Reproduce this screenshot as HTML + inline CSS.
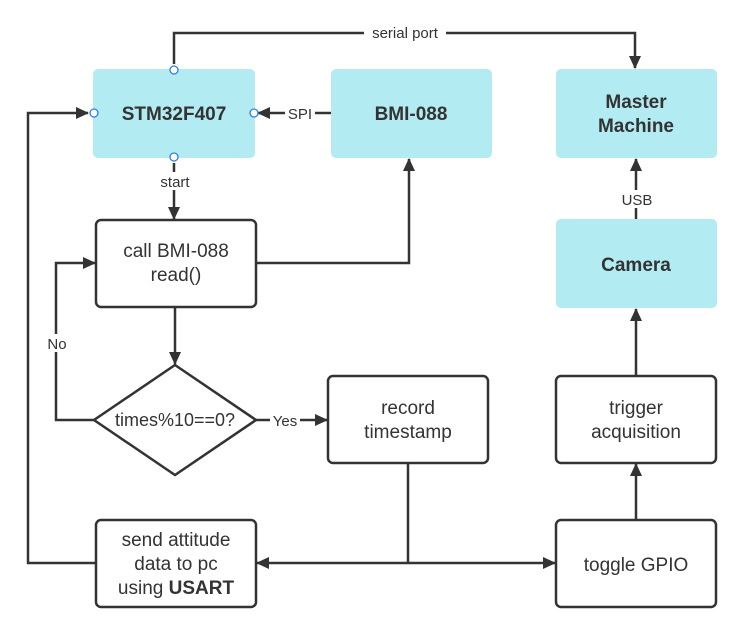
<!DOCTYPE html>
<html><head><meta charset="utf-8"><style>
html,body{margin:0;padding:0;background:#fff;}
svg{display:block;font-family:"Liberation Sans",sans-serif;}
</style></head><body>
<svg width="746" height="630" viewBox="0 0 746 630" xmlns="http://www.w3.org/2000/svg">
<defs>
<marker id="a" markerWidth="13" markerHeight="12" refX="12" refY="6" orient="auto" markerUnits="userSpaceOnUse">
<path d="M0,0 L13,6 L0,12 Z" fill="#333"/>
</marker>
</defs>
<g fill="#b2ebf2">
<rect x="93" y="69" width="162" height="89" rx="5"/>
<rect x="331" y="69" width="161" height="89" rx="5"/>
<rect x="556" y="69" width="161" height="89" rx="5"/>
<rect x="556" y="219" width="161" height="89" rx="5"/>
</g>
<g fill="#fff" stroke="#333" stroke-width="2.5">
<rect x="96" y="220" width="160" height="87" rx="5"/>
<rect x="328" y="376" width="160" height="87" rx="5"/>
<rect x="556" y="376" width="160" height="87" rx="5"/>
<rect x="96" y="520" width="160" height="87" rx="5"/>
<rect x="556" y="520" width="160" height="87" rx="5"/>
<polygon points="175,365 256,420 175,475 94,420"/>
</g>
<g fill="none" stroke="#333" stroke-width="2.5">
<polyline points="174,64 174,33 635,33 635,68" marker-end="url(#a)"/>
<line x1="331" y1="113" x2="258" y2="113" marker-end="url(#a)"/>
<line x1="174" y1="163" x2="174" y2="219" marker-end="url(#a)"/>
<polyline points="256,263 409,263 409,159" marker-end="url(#a)"/>
<line x1="175" y1="307" x2="175" y2="364" marker-end="url(#a)"/>
<polyline points="94,420 56,420 56,263 95,263" marker-end="url(#a)"/>
<line x1="256" y1="420" x2="327" y2="420" marker-end="url(#a)"/>
<line x1="408" y1="463" x2="408" y2="563"/>
<line x1="408" y1="563" x2="257" y2="563" marker-end="url(#a)"/>
<line x1="408" y1="563" x2="555" y2="563" marker-end="url(#a)"/>
<polyline points="96,563 28,563 28,113 88,113" marker-end="url(#a)"/>
<line x1="636" y1="520" x2="636" y2="464" marker-end="url(#a)"/>
<line x1="636" y1="376" x2="636" y2="309" marker-end="url(#a)"/>
<line x1="636" y1="219" x2="636" y2="159" marker-end="url(#a)"/>
</g>
<g fill="#fff" stroke="#2f7fe6" stroke-width="1.3">
<circle cx="174" cy="70" r="4"/><circle cx="94" cy="113" r="4"/>
<circle cx="254" cy="113" r="4"/><circle cx="174" cy="157" r="4"/>
</g>
<g fill="#fff">
<rect x="364" y="25" width="82" height="16"/>
<rect x="285" y="104" width="30" height="18"/>
<rect x="154" y="172" width="42" height="18"/>
<rect x="44" y="334" width="26" height="18"/>
<rect x="270" y="411" width="30" height="18"/>
<rect x="620" y="190" width="32" height="18"/>
</g>
<g fill="#333" font-size="15" text-anchor="middle">
<text x="405" y="38">serial port</text>
<text x="300" y="119">SPI</text>
<text x="175" y="187">start</text>
<text x="57" y="349">No</text>
<text x="285" y="426">Yes</text>
<text x="637" y="205">USB</text>
</g>
<g fill="#333" font-size="19" text-anchor="middle">
<text x="174" y="120" font-weight="bold">STM32F407</text>
<text x="411" y="120" font-weight="bold">BMI-088</text>
<text x="636" y="108" font-weight="bold">Master</text>
<text x="636" y="132" font-weight="bold">Machine</text>
<text x="636" y="271" font-weight="bold">Camera</text>
<text x="176" y="257">call BMI-088</text>
<text x="176" y="281">read()</text>
<text x="175" y="426" font-size="18">times%10==0?</text>
<text x="408" y="414">record</text>
<text x="408" y="438">timestamp</text>
<text x="636" y="414">trigger</text>
<text x="636" y="438">acquisition</text>
<text x="176" y="546">send attitude</text>
<text x="176" y="570">data to pc</text>
<text x="176" y="594">using <tspan font-weight="bold">USART</tspan></text>
<text x="636" y="571">toggle GPIO</text>
</g>
</svg>
</body></html>
